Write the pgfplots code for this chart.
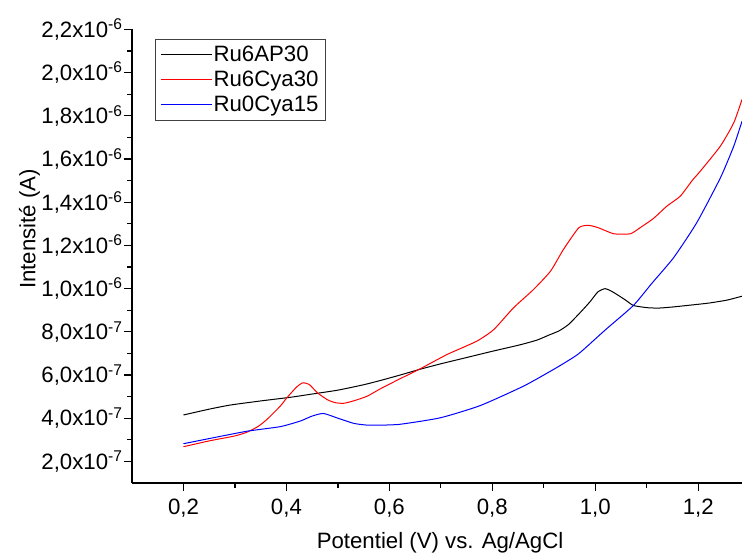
\documentclass[border=0pt]{standalone}
\usepackage{pgfplots}
\pgfplotsset{compat=1.18}
\usepackage{fontspec}
\setmainfont{Liberation Sans}

\newcommand{\tf}{\fontsize{22.3}{25}\selectfont}

\begin{document}
\begin{tikzpicture}
\begin{axis}[
    scale only axis,
    width=610bp, height=453.5bp,
    xmin=0.1, xmax=1.285,
    ymin=1, ymax=22,
    axis x line=bottom, axis y line=left,
    axis line style={-, line width=1.6bp},
    tick align=outside,
    tick style={line width=1.2bp, black},
    major tick length=8bp, minor tick length=5bp,
    xtick={0.2,0.4,0.6,0.8,1.0,1.2},
    xticklabels={{0,2},{0,4},{0,6},{0,8},{1,0},{1,2}},
    minor x tick num=1,
    ytick={2,4,6,8,10,12,14,16,18,20,22},
    yticklabels={
      {2,0x10\textsuperscript{-7}},{4,0x10\textsuperscript{-7}},
      {6,0x10\textsuperscript{-7}},{8,0x10\textsuperscript{-7}},
      {1,0x10\textsuperscript{-6}},{1,2x10\textsuperscript{-6}},
      {1,4x10\textsuperscript{-6}},{1,6x10\textsuperscript{-6}},
      {1,8x10\textsuperscript{-6}},{2,0x10\textsuperscript{-6}},
      {2,2x10\textsuperscript{-6}}},
    minor y tick num=1,
    ticklabel style={font=\tf},
    xticklabel style={yshift=-4bp},
    yticklabel style={xshift=2bp},
    xlabel={Potentiel (V) vs. Ag/AgCl},
    ylabel={Intensité (A)},
    label style={font=\tf},
    xlabel style={at={(axis description cs:0.505,-0.132)}, anchor=center},
    ylabel style={at={(axis description cs:-0.168,0.56)}, anchor=center},
    legend style={at={(axis description cs:0.038,0.98)}, anchor=north west,
      draw=black!75, line width=0.8bp, font=\tf, inner xsep=5bp, inner ysep=5bp,
      row sep=4bp},
    legend cell align=left,
    legend image code/.code={\draw[#1] plot coordinates {(0bp,0bp) (50bp,0bp)};},
  ]
\coordinate (bl) at (rel axis cs:0,0);
\coordinate (tr) at (rel axis cs:1,1);

\addplot[black, line width=1bp, smooth, tension=0.35] coordinates {
 (0.2,4.15) (0.25,4.42) (0.291,4.61) (0.35,4.80) (0.408,4.97) (0.45,5.12)
 (0.5,5.30) (0.55,5.55) (0.583,5.75) (0.621,6.00) (0.66,6.27) (0.7,6.52)
 (0.75,6.81) (0.8,7.10) (0.854,7.40) (0.887,7.62) (0.91,7.85) (0.93,8.05)
 (0.948,8.34) (0.971,8.9) (0.99,9.4) (1.005,9.85) (1.019,10.0) (1.03,9.9)
 (1.042,9.73) (1.06,9.45) (1.074,9.22) (1.1,9.12) (1.123,9.10) (1.15,9.15)
 (1.178,9.22) (1.22,9.33) (1.256,9.47) (1.285,9.65)
};
\addlegendentry{Ru6AP30}

\addplot[red, line width=1bp, smooth, tension=0.35] coordinates {
 (0.2,2.68) (0.25,2.95) (0.3,3.18) (0.324,3.36) (0.345,3.62) (0.362,3.94)
 (0.388,4.56) (0.401,4.95) (0.42,5.45) (0.432,5.64) (0.445,5.55) (0.46,5.18)
 (0.48,4.85) (0.495,4.72) (0.511,4.69) (0.53,4.8) (0.557,5.02) (0.583,5.37)
 (0.621,5.83) (0.66,6.29) (0.712,6.95) (0.77,7.57) (0.803,8.11) (0.841,9.11)
 (0.88,9.96) (0.913,10.81) (0.938,11.81) (0.968,12.82) (0.987,12.93)
 (1.006,12.82) (1.036,12.54) (1.068,12.54) (1.087,12.82) (1.113,13.25)
 (1.139,13.82) (1.165,14.28) (1.188,15.0) (1.204,15.44) (1.243,16.6)
 (1.269,17.68) (1.285,18.76)
};
\addlegendentry{Ru6Cya30}

\addplot[blue, line width=1bp, smooth, tension=0.35] coordinates {
 (0.2,2.82) (0.259,3.10) (0.324,3.40) (0.388,3.61) (0.427,3.87) (0.45,4.1)
 (0.472,4.22) (0.5,4.0) (0.531,3.76) (0.557,3.68) (0.583,3.68) (0.621,3.72)
 (0.699,4.02) (0.777,4.59) (0.861,5.49) (0.919,6.26) (0.951,6.72) (0.971,7.05)
 (1.02,8.1) (1.074,9.22) (1.11,10.25) (1.152,11.43) (1.197,13.05)
 (1.243,15.13) (1.269,16.6) (1.285,17.75)
};
\addlegendentry{Ru0Cya15}
\end{axis}
\pgfresetboundingbox
\path ([shift={(-132bp,-71bp)}]bl) rectangle ([shift={(0bp,29.5bp)}]tr);
\end{tikzpicture}
\end{document}
